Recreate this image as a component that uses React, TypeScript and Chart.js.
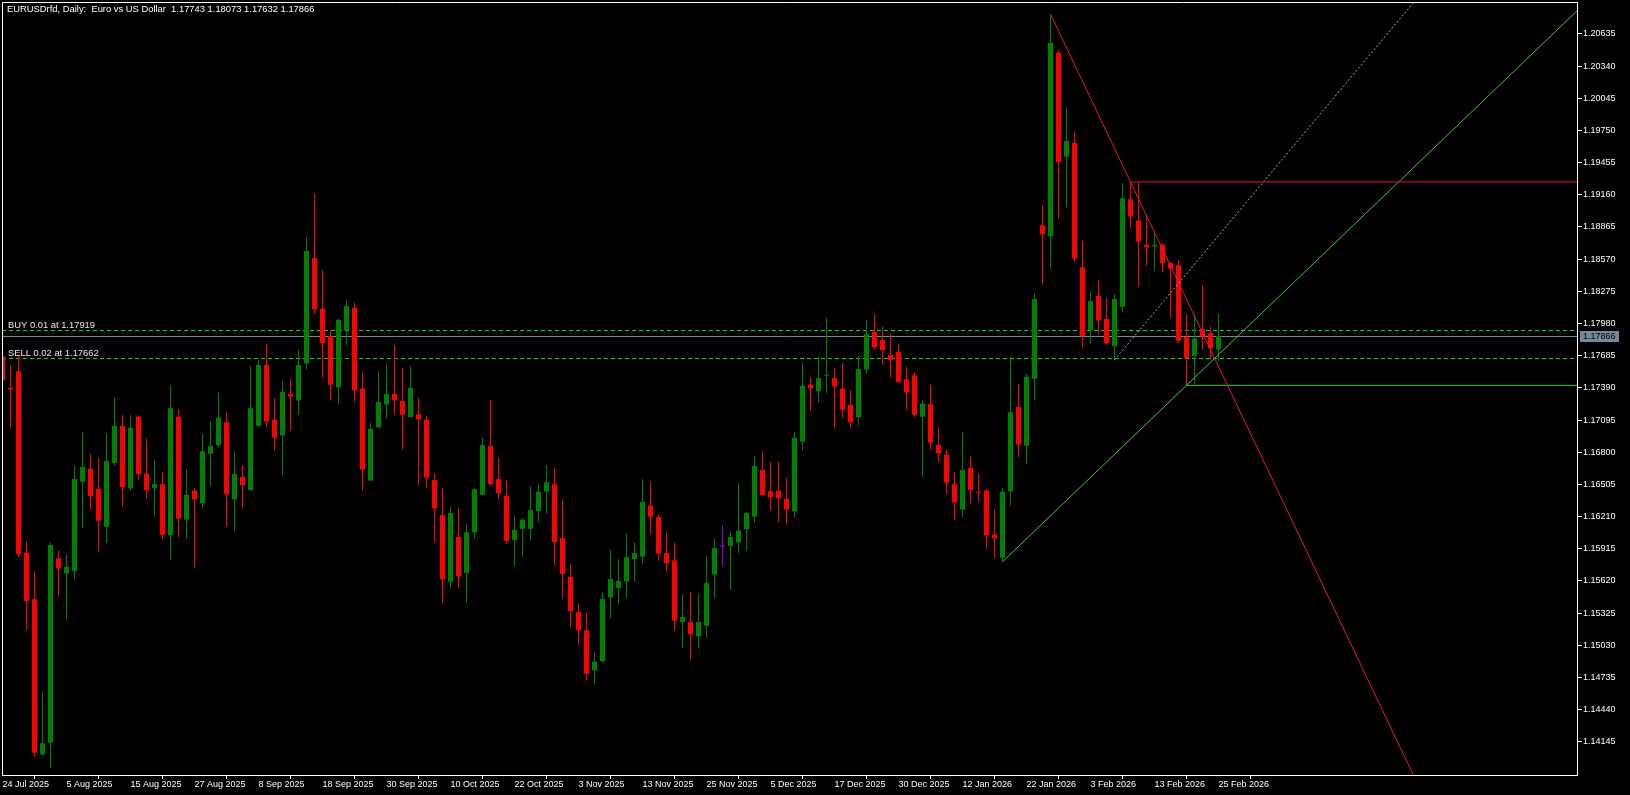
import React, { useEffect, useRef } from 'react';
import { Chart, registerables } from 'chart.js';

Chart.register(...registerables);

const chartTitle = 'EURUSDrfd, Daily:  Euro vs US Dollar  1.17743 1.18073 1.17632 1.17866';

// Date labels shown on the time axis (one every 8 daily bars, starting with bar 0)
const dateTickLabels = [
  '24 Jul 2025', '5 Aug 2025', '15 Aug 2025', '27 Aug 2025', '8 Sep 2025', '18 Sep 2025',
  '30 Sep 2025', '10 Oct 2025', '22 Oct 2025', '3 Nov 2025', '13 Nov 2025', '25 Nov 2025',
  '5 Dec 2025', '17 Dec 2025', '30 Dec 2025', '12 Jan 2026', '22 Jan 2026', '3 Feb 2026',
  '13 Feb 2026', '25 Feb 2026',
];
const barsPerDateTick = 8;

const priceTickLabels = [
  '1.14145', '1.14440', '1.14735', '1.15030', '1.15325', '1.15620', '1.15915', '1.16210',
  '1.16505', '1.16800', '1.17095', '1.17390', '1.17685', '1.17980', '1.18275', '1.18570',
  '1.18865', '1.19160', '1.19455', '1.19750', '1.20045', '1.20340', '1.20635',
];

const openPrices = [
  1.17678, 1.17390, 1.17543, 1.15879, 1.15451, 1.14029, 1.14136, 1.15828, 1.15689, 1.15712,
  1.16530, 1.16646, 1.16465, 1.16116, 1.16702, 1.17041, 1.16470, 1.17125, 1.16604, 1.16470,
  1.16507, 1.16037, 1.17125, 1.16181, 1.16447, 1.16330, 1.16786, 1.16865, 1.17074, 1.16367,
  1.16572, 1.16451, 1.17041, 1.17599, 1.17097, 1.16953, 1.17334, 1.17274, 1.17613, 1.18580,
  1.18115, 1.17864, 1.17395, 1.17920, 1.18125, 1.17381, 1.16539, 1.17027, 1.17237, 1.17334,
  1.17269, 1.17120, 1.17148, 1.17097, 1.16544, 1.16223, 1.15614, 1.16023, 1.15693, 1.16065,
  1.16409, 1.16856, 1.16553, 1.16400, 1.15995, 1.16097, 1.16097, 1.16260, 1.16437, 1.16507,
  1.16014, 1.15656, 1.15335, 1.15167, 1.14800, 1.14884, 1.15470, 1.15554, 1.15614, 1.15819,
  1.15842, 1.16311, 1.16205, 1.15875, 1.15809, 1.15242, 1.15242, 1.15112, 1.15209, 1.15679,
  1.15935, 1.15940, 1.15972, 1.16093, 1.16209, 1.16637, 1.16442, 1.16447, 1.16372, 1.16256,
  1.16897, 1.17418, 1.17358, 1.17502, 1.17479, 1.17381, 1.17232, 1.17120, 1.17557, 1.17902,
  1.17827, 1.17692, 1.17720, 1.17469, 1.17506, 1.17125, 1.17241, 1.16865, 1.16777, 1.16507,
  1.16274, 1.16655, 1.16437, 1.16447, 1.16046, 1.15833, 1.16442, 1.17214, 1.16860, 1.17474,
  1.18882, 1.18780, 1.20463, 1.19510, 1.19635, 1.18496, 1.17920, 1.18232, 1.18022, 1.17771,
  1.18134, 1.19119, 1.18924, 1.18701, 1.18687, 1.18701, 1.18534, 1.18515, 1.17855, 1.17683,
  1.17929, 1.17892, 1.17743,
];
const highPrices = [
  1.17692, 1.17599, 1.17692, 1.15981, 1.15707, 1.14601, 1.15972, 1.15893, 1.15865, 1.16679,
  1.16981, 1.16786, 1.16749, 1.16972, 1.17302, 1.17139, 1.17139, 1.17134, 1.16925, 1.16730,
  1.16618, 1.17418, 1.17195, 1.16646, 1.16470, 1.16967, 1.17083, 1.17353, 1.17167, 1.16809,
  1.16683, 1.17590, 1.17646, 1.17794, 1.17298, 1.17455, 1.17474, 1.17739, 1.18775, 1.19175,
  1.18469, 1.17916, 1.18022, 1.18194, 1.18171, 1.17534, 1.17069, 1.17534, 1.17609, 1.17785,
  1.17576, 1.17585, 1.17298, 1.17134, 1.16609, 1.16474, 1.16298, 1.16293, 1.16144, 1.16470,
  1.16930, 1.17279, 1.16749, 1.16544, 1.16214, 1.16195, 1.16488, 1.16507, 1.16683, 1.16656,
  1.16363, 1.15772, 1.15409, 1.15326, 1.14968, 1.15516, 1.15902, 1.15819, 1.16051, 1.15967,
  1.16553, 1.16525, 1.16228, 1.16069, 1.15967, 1.15493, 1.15521, 1.15498, 1.15847, 1.16005,
  1.16135, 1.16074, 1.16516, 1.16251, 1.16767, 1.16809, 1.16711, 1.16711, 1.16563, 1.16986,
  1.17618, 1.17488, 1.17678, 1.18032, 1.17567, 1.17618, 1.17367, 1.17683, 1.18013, 1.18064,
  1.17953, 1.17883, 1.17794, 1.17581, 1.17534, 1.17279, 1.17418, 1.17023, 1.16823, 1.16618,
  1.16981, 1.16767, 1.16609, 1.16465, 1.16274, 1.16474, 1.17678, 1.17427, 1.17516, 1.18260,
  1.19064, 1.20816, 1.20486, 1.19956, 1.19738, 1.18738, 1.18274, 1.18376, 1.18213, 1.18250,
  1.19264, 1.19278, 1.19273, 1.18975, 1.18831, 1.18715, 1.18543, 1.18562, 1.18064, 1.18064,
  1.18334, 1.17948, 1.18073,
];
const lowPrices = [
  1.17437, 1.17018, 1.15842, 1.15172, 1.14010, 1.14020, 1.13903, 1.15484, 1.15265, 1.15633,
  1.16102, 1.16274, 1.15888, 1.15967, 1.16674, 1.16302, 1.16447, 1.16549, 1.16372, 1.16209,
  1.15998, 1.15814, 1.16019, 1.16009, 1.15740, 1.16284, 1.16488, 1.16847, 1.16116, 1.16074,
  1.16284, 1.16451, 1.17032, 1.17027, 1.16814, 1.16586, 1.17000, 1.17144, 1.17562, 1.18064,
  1.17483, 1.17274, 1.17241, 1.17781, 1.17260, 1.16447, 1.16539, 1.17027, 1.17111, 1.17144,
  1.16828, 1.17120, 1.16498, 1.16470, 1.15972, 1.15414, 1.15554, 1.15554, 1.15414, 1.16009,
  1.16400, 1.16493, 1.16367, 1.15958, 1.15749, 1.15842, 1.15995, 1.16158, 1.16237, 1.15763,
  1.15456, 1.15195, 1.15033, 1.14707, 1.14675, 1.14870, 1.15279, 1.15400, 1.15456, 1.15614,
  1.15772, 1.16051, 1.15805, 1.15703, 1.15158, 1.15005, 1.14898, 1.15000, 1.15103, 1.15461,
  1.15754, 1.15540, 1.15879, 1.15893, 1.16153, 1.16405, 1.16265, 1.16158, 1.16139, 1.16200,
  1.16814, 1.17181, 1.17255, 1.17344, 1.17018, 1.17111, 1.17018, 1.17046, 1.17520, 1.17739,
  1.17604, 1.17483, 1.17441, 1.17185, 1.17120, 1.16577, 1.16823, 1.16711, 1.16414, 1.16177,
  1.16200, 1.16330, 1.16339, 1.15916, 1.15833, 1.15795, 1.16316, 1.16753, 1.16693, 1.17274,
  1.18339, 1.18492, 1.18943, 1.19045, 1.18543, 1.17753, 1.17790, 1.17883, 1.17785, 1.17646,
  1.18083, 1.18859, 1.18320, 1.18510, 1.18459, 1.18450, 1.18032, 1.17799, 1.17413, 1.17423,
  1.17739, 1.17650, 1.17632,
];
const closePrices = [
  1.17460, 1.17376, 1.15865, 1.15437, 1.14043, 1.14131, 1.15949, 1.15735, 1.15749, 1.16553,
  1.16665, 1.16395, 1.16172, 1.16721, 1.17041, 1.16479, 1.17023, 1.16600, 1.16451, 1.16507,
  1.16042, 1.17204, 1.16191, 1.16409, 1.16367, 1.16809, 1.16856, 1.17116, 1.16414, 1.16600,
  1.16498, 1.17204, 1.17599, 1.17083, 1.16934, 1.17353, 1.17311, 1.17599, 1.18645, 1.18111,
  1.17799, 1.17418, 1.18013, 1.18139, 1.17367, 1.16641, 1.17013, 1.17260, 1.17334, 1.17274,
  1.17144, 1.17390, 1.17102, 1.16567, 1.16284, 1.15633, 1.16242, 1.15661, 1.16065, 1.16460,
  1.16865, 1.16507, 1.16423, 1.15986, 1.16088, 1.16181, 1.16270, 1.16437, 1.16525, 1.15976,
  1.15684, 1.15344, 1.15167, 1.14768, 1.14880, 1.15456, 1.15637, 1.15619, 1.15837, 1.15875,
  1.16344, 1.16209, 1.15870, 1.15782, 1.15256, 1.15288, 1.15130, 1.15242, 1.15600, 1.15921,
  1.15935, 1.16023, 1.16079, 1.16242, 1.16674, 1.16405, 1.16386, 1.16377, 1.16274, 1.16930,
  1.17409, 1.17386, 1.17479, 1.17511, 1.17404, 1.17190, 1.17074, 1.17562, 1.17883, 1.17762,
  1.17734, 1.17641, 1.17441, 1.17348, 1.17144, 1.17246, 1.16888, 1.16791, 1.16521, 1.16339,
  1.16637, 1.16451, 1.16428, 1.16037, 1.16009, 1.16437, 1.17167, 1.16870, 1.17492, 1.18204,
  1.18799, 1.20551, 1.19459, 1.19654, 1.18576, 1.17864, 1.18185, 1.18008, 1.17799, 1.18204,
  1.19129, 1.18961, 1.18734, 1.18678, 1.18701, 1.18534, 1.18483, 1.17822, 1.17664, 1.17841,
  1.17860, 1.17757, 1.17866,
];

const buyOrder = { label: 'BUY 0.01 at 1.17919', price: 1.17919 };
const sellOrder = { label: 'SELL 0.02 at 1.17662', price: 1.17662 };
const lastBid = 1.17866;

// Drawn objects: anchor points as [bar index, price]
const resistanceTrend = [[131, 1.20816], [141, 1.19278]];
const supportTrend = [[125, 1.15795], [148, 1.17413]];
const dottedTrend = [[139, 1.17646], [176, 1.2089]];
const resistanceLevel = [141, 1.19278];
const supportLevel = [148, 1.17413];

// Visible range
const xMin = -0.0625;
const xMax = 196.8125;
const yMin = 1.1384;
const yMax = 1.20928;

const BULL = '#008000';
const BEAR = '#ff0000';
const DOJI = '#9400D3';
const FONT = '"Liberation Sans", Arial, sans-serif';

function candleColor(i: number) {
  const o = openPrices[i];
  const c = closePrices[i];
  if (c > o) return BULL;
  if (c < o) return BEAR;
  return DOJI;
}

function ray(anchors: number[][], xEnd: number) {
  const [a, b] = anchors;
  const slope = (b[1] - a[1]) / (b[0] - a[0]);
  return [
    { x: a[0], y: a[1] },
    { x: xEnd, y: a[1] + slope * (xEnd - a[0]) },
  ];
}

function level(anchor: number[], xEnd: number) {
  return [
    { x: anchor[0], y: anchor[1] },
    { x: xEnd, y: anchor[1] },
  ];
}

const overlayPlugin = {
  id: 'mtOverlay',
  beforeDraw(chart: any) {
    const { ctx, width, height } = chart;
    ctx.save();
    ctx.fillStyle = '#000';
    ctx.fillRect(0, 0, width, height);
    ctx.restore();
  },
  beforeDatasetsDraw(chart: any) {
    const { ctx, chartArea: a } = chart;
    const y = chart.scales.y;
    ctx.save();
    ctx.beginPath();
    ctx.rect(a.left, a.top, a.right - a.left, a.bottom - a.top);
    ctx.clip();
    ctx.lineWidth = 1;
    const hline = (price: number, color: string, dash: number[]) => {
      const py = Math.round(y.getPixelForValue(price)) + 0.5;
      ctx.strokeStyle = color;
      ctx.setLineDash(dash);
      ctx.beginPath();
      ctx.moveTo(a.left, py);
      ctx.lineTo(a.right, py);
      ctx.stroke();
    };
    hline(lastBid, '#778899', []);
    hline(buyOrder.price, '#00E000', [4, 3]);
    hline(sellOrder.price, '#00E000', [4, 3]);
    ctx.restore();
  },
  afterDraw(chart: any) {
    const { ctx, chartArea: a } = chart;
    const y = chart.scales.y;
    ctx.save();
    // frame (left and top; right/bottom are the axis borders)
    ctx.strokeStyle = '#ffffff';
    ctx.lineWidth = 1;
    ctx.setLineDash([]);
    ctx.beginPath();
    ctx.moveTo(a.left + 0.5, a.bottom);
    ctx.lineTo(a.left + 0.5, a.top + 0.5);
    ctx.lineTo(a.right, a.top + 0.5);
    ctx.stroke();

    ctx.font = '9.4px ' + FONT;
    ctx.textBaseline = 'alphabetic';
    ctx.textAlign = 'left';

    // title
    ctx.fillStyle = '#ffffff';
    ctx.fillText(chartTitle, 7, 12);

    // order labels
    ctx.fillStyle = '#e6e6e6';
    const buyY = Math.round(y.getPixelForValue(buyOrder.price));
    const sellY = Math.round(y.getPixelForValue(sellOrder.price));
    ctx.fillText(buyOrder.label, 8, buyY - 2);
    ctx.fillText(sellOrder.label, 8, sellY - 2);

    // last price box on the price axis
    ctx.font = '9px ' + FONT;
    const py = Math.round(y.getPixelForValue(lastBid));
    ctx.fillStyle = '#778899';
    ctx.fillRect(a.right + 3, py - 5, 39, 11);
    ctx.fillStyle = '#000000';
    ctx.textBaseline = 'middle';
    ctx.fillText(lastBid.toFixed(5), a.right + 6, py + 0.5);
    ctx.restore();
  },
};

export default function App() {
  const ref = useRef<HTMLCanvasElement>(null);

  useEffect(() => {
    const canvas = ref.current;
    if (!canvas) return;

    const wickData = highPrices.map((h, i) => ({ x: i, y: [lowPrices[i], h] }));
    const bodyData = openPrices.map((o, i) => ({ x: i, y: [o, closePrices[i]] }));

    const lineBase = {
      type: 'line' as const,
      borderWidth: 1,
      pointRadius: 0,
      pointHoverRadius: 0,
      fill: false,
      tension: 0,
      order: 0,
    };

    const chart = new Chart(canvas, {
      type: 'bar',
      data: {
        datasets: [
          {
            ...lineBase,
            data: ray(resistanceTrend, xMax),
            borderColor: '#E8143C',
          } as any,
          {
            ...lineBase,
            data: level(resistanceLevel, xMax),
            borderColor: '#DC143C',
          } as any,
          {
            ...lineBase,
            data: ray(supportTrend, xMax),
            borderColor: '#32CD32',
          } as any,
          {
            ...lineBase,
            data: level(supportLevel, xMax),
            borderColor: '#32CD32',
          } as any,
          {
            ...lineBase,
            data: ray(dottedTrend, xMax),
            borderColor: '#a8a8a8',
            borderDash: [2, 2],
          } as any,
          {
            type: 'bar',
            data: bodyData as any,
            backgroundColor: (c: any) => candleColor(c.dataIndex),
            borderWidth: 0,
            barThickness: 5,
            grouped: false,
            minBarLength: 1,
            inflateAmount: 0,
            order: 1,
          } as any,
          {
            type: 'bar',
            data: wickData as any,
            backgroundColor: (c: any) => candleColor(c.dataIndex),
            borderWidth: 0,
            barThickness: 1,
            grouped: false,
            minBarLength: 1,
            inflateAmount: 0,
            order: 2,
          } as any,
        ],
      },
      options: {
        animation: false,
        responsive: false,
        devicePixelRatio: 1,
        events: [],
        layout: { padding: { left: 2, top: 2, right: 0, bottom: 0 } },
        plugins: {
          legend: { display: false },
          tooltip: { enabled: false },
          title: { display: false },
        },
        scales: {
          x: {
            type: 'linear',
            min: xMin,
            max: xMax,
            offset: false,
            position: 'bottom',
            grid: {
              display: true,
              drawOnChartArea: false,
              drawTicks: true,
              tickLength: 4,
              color: '#ffffff',
              tickColor: '#ffffff',
            },
            border: { display: true, color: '#ffffff', width: 1 },
            ticks: {
              autoSkip: false,
              maxRotation: 0,
              minRotation: 0,
              align: 'start',
              padding: 0,
              color: '#ffffff',
              font: { family: FONT, size: 9 },
              callback: (_v: any, i: number) => dateTickLabels[i],
            },
            afterBuildTicks: (s: any) => {
              s.ticks = dateTickLabels.map((_, k) => ({ value: k * barsPerDateTick }));
            },
            afterFit: (s: any) => {
              s.height = 20;
              s.paddingLeft = 0;
              s.paddingRight = 0;
            },
          } as any,
          y: {
            type: 'linear',
            position: 'right',
            min: yMin,
            max: yMax,
            grid: {
              display: true,
              drawOnChartArea: false,
              drawTicks: true,
              tickLength: 5,
              color: '#ffffff',
              tickColor: '#ffffff',
            },
            border: { display: true, color: '#ffffff', width: 1 },
            ticks: {
              autoSkip: false,
              padding: 1,
              color: '#ffffff',
              font: { family: FONT, size: 9 },
              callback: (_v: any, i: number) => priceTickLabels[i],
            },
            afterBuildTicks: (s: any) => {
              s.ticks = priceTickLabels.map((t) => ({ value: parseFloat(t) }));
            },
            afterFit: (s: any) => {
              s.width = 53;
              s.paddingTop = 0;
              s.paddingBottom = 0;
            },
          } as any,
        },
      },
      plugins: [overlayPlugin],
    });

    return () => chart.destroy();
  }, []);

  return (
    <div
      style={{
        position: 'fixed',
        left: 0,
        top: 0,
        width: 1630,
        height: 795,
        background: '#000',
        overflow: 'hidden',
      }}
    >
      <canvas
        ref={ref}
        width={1630}
        height={795}
        style={{ display: 'block', width: 1630, height: 795 }}
      />
    </div>
  );
}
